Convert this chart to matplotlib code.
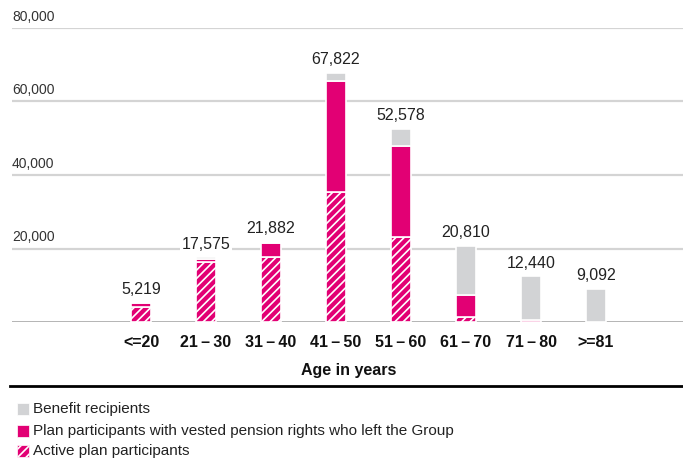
import numpy as np
import matplotlib.pyplot as plt
from matplotlib.patches import Rectangle
from matplotlib.lines import Line2D

plt.rcParams['font.family'] = ['Liberation Sans Narrow', 'Liberation Sans', 'DejaVu Sans']
plt.rcParams['hatch.linewidth'] = 1.2

age_groups = ['<=20', '21\u2009–\u200930', '31\u2009–\u200940', '41\u2009–\u200950',
              '51\u2009–\u200960', '61\u2009–\u200970', '71\u2009–\u200980', '>=81']
active = [4150, 16300, 17800, 35400, 23200, 1400, 60, 0]
vested = [1050, 900, 3800, 30200, 24800, 6000, 380, 92]
benefit = [19, 375, 282, 2222, 4578, 13410, 12000, 9000]
totals = ['5,219', '17,575', '21,882', '67,822', '52,578', '20,810', '12,440', '9,092']
y_ticks = [20000, 40000, 60000, 80000]
legend_labels = ['Benefit recipients',
                 'Plan participants with vested pension rights who left the Group',
                 'Active plan participants']

magenta = '#e20074'
grey = '#d2d3d5'
W, H = 683, 461

fig = plt.figure(figsize=(W / 100, H / 100), dpi=100)
ax = fig.add_axes([12 / W, (H - 322) / H, 671 / W, 294 / H])
ax.set_xlim(-1.985, 8.338)
ax.set_ylim(0, 80000)
ax.axis('off')

x = np.arange(len(age_groups))
active = np.array(active)
vested = np.array(vested)
benefit = np.array(benefit)

for y in y_ticks:
    ax.axhline(y, color='#d4d4d4', lw=1.6, zorder=1)
    ax.text(0, y + 1200, f'{y:,}', transform=ax.get_yaxis_transform(),
            ha='left', va='bottom', fontsize=10, color='#333333', clip_on=False)
ax.axhline(0, color='#a8a8a8', lw=1.2, zorder=1)

w = 0.31
ax.bar(x, active, w, color=magenta, edgecolor='white', lw=1.2, hatch='////', zorder=3)
ax.bar(x, vested, w, bottom=active, color=magenta, edgecolor='white', lw=1.2, zorder=3)
ax.bar(x, benefit, w, bottom=active + vested, color=grey, edgecolor='white', lw=1.2, zorder=3)

tops = active + vested + benefit
for xi, t, lab in zip(x, tops, totals):
    ax.text(xi, t + 1500, lab, ha='center', va='bottom', fontsize=11.5, color='#222222',
            bbox=dict(facecolor='white', edgecolor='none', pad=1.5), zorder=4)

for xi, lab in zip(x, age_groups):
    ax.text(xi, -3500, lab, ha='center', va='top', fontsize=11.5, fontweight='bold',
            color='#111111')
ax.text(3.2, -11200, 'Age in years', ha='center', va='top', fontsize=11.5,
        fontweight='bold', color='#111111')

fig.add_artist(Line2D([10 / W, 1], [(H - 386) / H] * 2, color='black', lw=2))

rows = [409, 431, 451]
styles = [dict(facecolor=grey), dict(facecolor=magenta),
          dict(facecolor=magenta, hatch='////')]
for yc, lab, st in zip(rows, legend_labels, styles):
    fig.add_artist(Rectangle((17 / W, (H - yc - 6) / H), 12 / W, 12 / H,
                             edgecolor='white', lw=0.5, transform=fig.transFigure, **st))
    fig.text(33 / W, (H - yc) / H, lab, ha='left', va='center', fontsize=11,
             color='#222222')

fig.savefig('out.png', dpi=100)
